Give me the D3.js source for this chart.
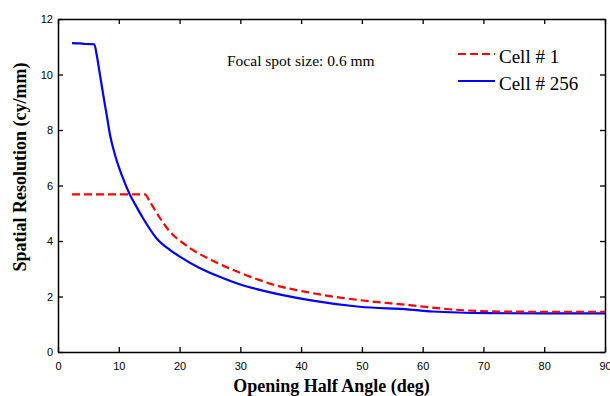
<!DOCTYPE html>
<html><head><meta charset="utf-8">
<script src="https://cdn.jsdelivr.net/npm/d3@7/dist/d3.min.js"></script>
<style>body{margin:0;background:#fff;}svg{display:block;}</style>
</head><body><svg id="c" width="610" height="396"></svg>
<script>
const xTicks = [0,10,20,30,40,50,60,70,80,90];
const yTicks = [0,2,4,6,8,10,12];
const seriesNames = ["Cell # 1","Cell # 256"];
const cell1Angle = [2.3, 14.3, 15.1, 16.8, 18.4, 20.6, 26.6, 30, 33.2, 34.8, 41.4, 49.6, 57.8, 64.4, 72.6, 80, 90];
const cell1Res   = [5.68, 5.68, 5.42, 4.82, 4.34, 3.92, 3.17, 2.85, 2.59, 2.47, 2.14, 1.87, 1.69, 1.54, 1.46, 1.45, 1.45];
const cell256Angle = [2.3, 3.5, 4.5, 5.97, 6.37, 6.91, 7.45, 8.01, 8.56, 9.38, 10.48, 11.85, 12.67, 14.0, 16.2, 18.4, 20.1, 23.3, 26.6, 30, 33.2, 41.4, 49.6, 57.8, 61.6, 70.9, 80, 90];
const cell256Res   = [11.13, 11.12, 11.10, 11.09, 10.70, 9.98, 9.26, 8.54, 7.82, 7.10, 6.38, 5.66, 5.33, 4.82, 4.10, 3.68, 3.43, 3.03, 2.71, 2.43, 2.24, 1.87, 1.63, 1.53, 1.46, 1.40, 1.39, 1.39];

const svg = d3.select("#c");
const L = 58, R = 605, T = 19, B = 352;
const x = d3.scaleLinear().domain([0,90]).range([L,R]);
const y = d3.scaleLinear().domain([0,12]).range([B,T]);

const tickFont = "Liberation Sans, Arial, sans-serif";
const gx = svg.append("g").attr("transform",`translate(0,${B})`)
  .call(d3.axisBottom(x).tickValues(xTicks).tickSizeInner(-5).tickSizeOuter(0).tickPadding(10));
const gxt = svg.append("g").attr("transform",`translate(0,${T})`)
  .call(d3.axisTop(x).tickValues(xTicks).tickSizeInner(-5).tickSizeOuter(0).tickFormat(""));
const gy = svg.append("g").attr("transform",`translate(${L},0)`)
  .call(d3.axisLeft(y).tickValues(yTicks).tickSizeInner(-5).tickSizeOuter(0).tickPadding(10));
const gyr = svg.append("g").attr("transform",`translate(${R},0)`)
  .call(d3.axisRight(y).tickValues(yTicks).tickSizeInner(-5).tickSizeOuter(0).tickFormat(""));
[gx,gxt,gy,gyr].forEach(g=>{
  g.select(".domain").attr("stroke","#000").attr("stroke-width",1.5);
  g.selectAll(".tick line").attr("stroke","#000").attr("stroke-width",1.3);
  g.selectAll(".tick text").attr("fill","#000").style("font-family",tickFont).style("font-size","11px");
});
gy.selectAll(".tick text").attr("x",-5);

const line = d3.line().x(d=>x(d[0])).y(d=>y(d[1])).curve(d3.curveMonotoneX);
const d1 = cell1Angle.map((a,i)=>[a,cell1Res[i]]);
const d256 = cell256Angle.map((a,i)=>[a,cell256Res[i]]);

svg.append("path").datum(d256).attr("d",line).attr("fill","none")
  .attr("stroke","#0000ff").attr("stroke-width",2.2);
svg.append("path").datum(d1).attr("d",line).attr("fill","none")
  .attr("stroke","#ff0000").attr("stroke-width",2.2).attr("stroke-dasharray","8,4");

const serif = "Liberation Serif, Times New Roman, serif";
const leg = [{n:seriesNames[0],c:"#ff0000",dash:"8,4",ly:54,ty:61},{n:seriesNames[1],c:"#0000ff",dash:null,ly:81,ty:88}];
leg.forEach(l=>{
  svg.append("line").attr("x1",458).attr("x2",495).attr("y1",l.ly).attr("y2",l.ly)
    .attr("stroke",l.c).attr("stroke-width",2.2).attr("stroke-dasharray",l.dash);
  svg.append("text").attr("x",499).attr("y",l.ty+2).text(l.n)
    .style("font-family",serif).style("font-size","19px").attr("fill","#000");
});

svg.append("text").attr("x",227).attr("y",66).text("Focal spot size: 0.6 mm")
  .style("font-family",serif).style("font-size","15.5px").attr("fill","#000");

svg.append("text").attr("x",(L+R)/2).attr("y",392).attr("text-anchor","middle")
  .text("Opening Half Angle (deg)").style("font-family",serif).style("font-size","18px")
  .style("font-weight","bold").attr("fill","#000");
svg.append("text").attr("transform","translate(26,167) rotate(-90)").attr("text-anchor","middle")
  .text("Spatial Resolution (cy/mm)").style("font-family",serif).style("font-size","18px")
  .style("font-weight","bold").attr("fill","#000");
</script></body></html>
